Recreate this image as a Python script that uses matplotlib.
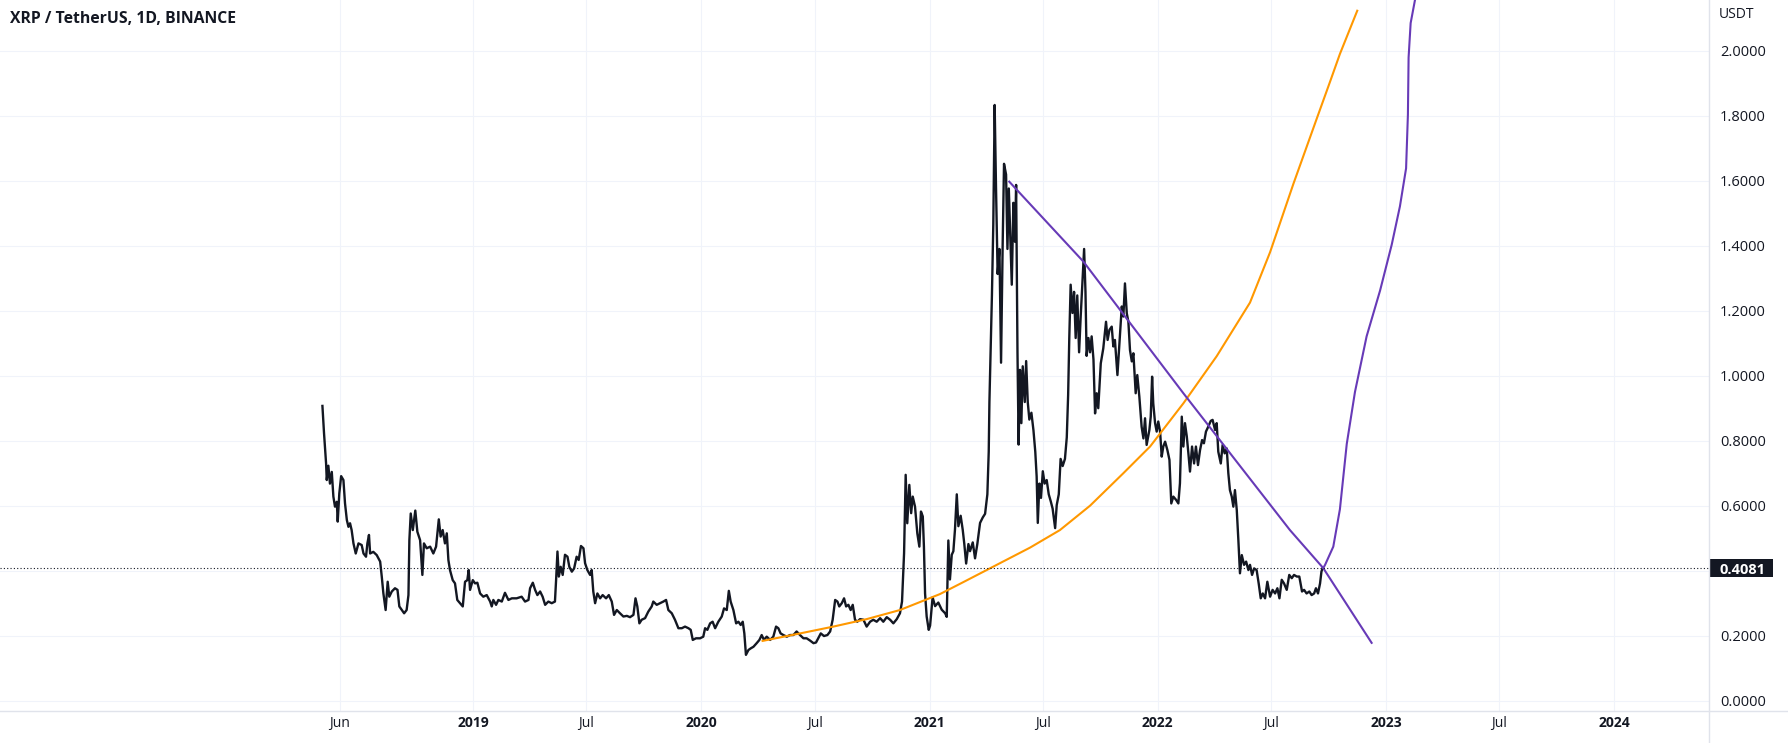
import matplotlib
matplotlib.use("Agg")
import matplotlib.pyplot as plt
from matplotlib.patches import Rectangle
from matplotlib.lines import Line2D
from matplotlib.transforms import blended_transform_factory

plt.rcParams['font.family'] = ['Open Sans', 'DejaVu Sans']

# XRP/USDT daily close (time in decimal years)
price_t = [
    2018.339, 2018.346, 2018.355, 2018.358, 2018.365, 2018.372, 2018.380, 2018.387, 2018.394, 2018.402,
    2018.406, 2018.413, 2018.421, 2018.431, 2018.438, 2018.446, 2018.453, 2018.460, 2018.467, 2018.475,
    2018.485, 2018.497, 2018.511, 2018.519, 2018.530, 2018.536, 2018.543, 2018.548, 2018.562, 2018.577,
    2018.592, 2018.599, 2018.606, 2018.616, 2018.625, 2018.632, 2018.643, 2018.657, 2018.668, 2018.676,
    2018.687, 2018.697, 2018.708, 2018.716, 2018.720, 2018.726, 2018.735, 2018.746, 2018.755, 2018.767,
    2018.777, 2018.784, 2018.796, 2018.811, 2018.825, 2018.837, 2018.849, 2018.857, 2018.866, 2018.876,
    2018.884, 2018.891, 2018.898, 2018.910, 2018.920, 2018.930, 2018.942, 2018.954, 2018.964, 2018.974,
    2018.980, 2018.986, 2018.998, 2019.008, 2019.018,
    2019.030, 2019.044, 2019.059, 2019.074, 2019.081, 2019.088, 2019.100, 2019.110, 2019.125, 2019.139,
    2019.154, 2019.169, 2019.190, 2019.212, 2019.227, 2019.242, 2019.249, 2019.261, 2019.271, 2019.281,
    2019.293, 2019.304, 2019.315, 2019.329, 2019.344, 2019.358, 2019.363, 2019.369, 2019.375, 2019.383,
    2019.392, 2019.402, 2019.413, 2019.421, 2019.432, 2019.442, 2019.453, 2019.462, 2019.472, 2019.483,
    2019.490, 2019.500, 2019.512, 2019.519, 2019.526, 2019.534, 2019.544, 2019.556, 2019.567, 2019.582,
    2019.594, 2019.607, 2019.617, 2019.629, 2019.643, 2019.658, 2019.673, 2019.687, 2019.702, 2019.711,
    2019.719, 2019.728, 2019.738, 2019.753, 2019.767, 2019.782, 2019.789, 2019.804, 2019.819, 2019.833,
    2019.845, 2019.855, 2019.870, 2019.884, 2019.899, 2019.914, 2019.928, 2019.943, 2019.953, 2019.962,
    2019.976, 2019.994, 2020.008, 2020.016, 2020.026, 2020.038,
    2020.049, 2020.060, 2020.074, 2020.089, 2020.099, 2020.111, 2020.120, 2020.128, 2020.140, 2020.152,
    2020.162, 2020.172, 2020.181, 2020.188, 2020.195, 2020.206, 2020.216, 2020.228, 2020.242, 2020.254,
    2020.264, 2020.274, 2020.286, 2020.301, 2020.315, 2020.327, 2020.337, 2020.347, 2020.359, 2020.374,
    2020.388, 2020.403, 2020.417, 2020.432, 2020.447, 2020.461, 2020.476, 2020.491, 2020.502, 2020.512,
    2020.523, 2020.537, 2020.552, 2020.564, 2020.575, 2020.586, 2020.596, 2020.604, 2020.615, 2020.625,
    2020.634, 2020.644, 2020.654, 2020.663, 2020.673, 2020.683, 2020.695, 2020.710, 2020.724, 2020.739,
    2020.753, 2020.768, 2020.783, 2020.797, 2020.812, 2020.827, 2020.841, 2020.856, 2020.870, 2020.879,
    2020.888, 2020.895, 2020.902, 2020.911, 2020.919, 2020.926, 2020.936, 2020.946, 2020.955, 2020.962,
    2020.970, 2020.975, 2020.980, 2020.987, 2020.996,
    2021.002, 2021.013, 2021.024, 2021.038, 2021.053, 2021.068, 2021.075, 2021.082, 2021.089, 2021.097,
    2021.104, 2021.111, 2021.119, 2021.126, 2021.136, 2021.145, 2021.152, 2021.160, 2021.170, 2021.177,
    2021.189, 2021.199, 2021.209, 2021.221, 2021.233, 2021.243, 2021.253, 2021.259, 2021.262, 2021.268,
    2021.273, 2021.279, 2021.285, 2021.291, 2021.298, 2021.306, 2021.313, 2021.320, 2021.326, 2021.335,
    2021.341, 2021.347, 2021.352, 2021.360, 2021.367, 2021.374, 2021.379, 2021.385, 2021.390, 2021.396,
    2021.402, 2021.408, 2021.417, 2021.423, 2021.430, 2021.437, 2021.446, 2021.455, 2021.463, 2021.469,
    2021.474, 2021.481, 2021.488, 2021.496, 2021.504, 2021.513, 2021.522, 2021.531, 2021.539, 2021.550,
    2021.557, 2021.566, 2021.574, 2021.583, 2021.593, 2021.601, 2021.607, 2021.612, 2021.618, 2021.626,
    2021.633, 2021.640, 2021.647, 2021.655, 2021.662, 2021.669, 2021.677, 2021.683, 2021.688, 2021.696,
    2021.703, 2021.710, 2021.718,
    2021.725, 2021.732, 2021.739, 2021.750, 2021.761, 2021.773, 2021.780, 2021.788, 2021.798, 2021.805,
    2021.812, 2021.823, 2021.831, 2021.842, 2021.849, 2021.856, 2021.864, 2021.871, 2021.878, 2021.886,
    2021.893, 2021.903, 2021.910, 2021.919, 2021.929, 2021.937, 2021.944, 2021.951, 2021.963, 2021.969,
    2021.975, 2021.980, 2021.988, 2021.995, 2022.002, 2022.010, 2022.017, 2022.024, 2022.032, 2022.042,
    2022.051, 2022.059, 2022.068, 2022.080, 2022.090, 2022.097, 2022.105, 2022.112, 2022.119, 2022.127,
    2022.134, 2022.141, 2022.150, 2022.159, 2022.167, 2022.176, 2022.185, 2022.194, 2022.202, 2022.211,
    2022.221, 2022.232, 2022.240, 2022.251, 2022.258, 2022.265, 2022.276, 2022.284, 2022.293, 2022.302,
    2022.309, 2022.316, 2022.324, 2022.331, 2022.338, 2022.346, 2022.353, 2022.360, 2022.368, 2022.378,
    2022.387, 2022.397, 2022.404, 2022.413, 2022.422, 2022.433, 2022.442, 2022.451, 2022.460, 2022.470,
    2022.480, 2022.492, 2022.503, 2022.514, 2022.524, 2022.533, 2022.543, 2022.553, 2022.565, 2022.576,
    2022.587, 2022.597, 2022.609, 2022.620, 2022.632, 2022.641, 2022.652, 2022.664, 2022.674, 2022.685,
    2022.693, 2022.702, 2022.711, 2022.717, 2022.722,
]
price_v = [
    0.907, 0.823, 0.730, 0.679, 0.723, 0.668, 0.704, 0.628, 0.597, 0.612,
    0.551, 0.638, 0.691, 0.679, 0.607, 0.556, 0.535, 0.546, 0.525, 0.484,
    0.453, 0.484, 0.479, 0.453, 0.443, 0.484, 0.510, 0.453, 0.458, 0.448,
    0.428, 0.382, 0.331, 0.279, 0.366, 0.320, 0.336, 0.346, 0.341, 0.290,
    0.279, 0.269, 0.279, 0.325, 0.494, 0.576, 0.525, 0.585, 0.520, 0.494,
    0.387, 0.484, 0.469, 0.474, 0.453, 0.474, 0.558, 0.505, 0.525, 0.484,
    0.515, 0.433, 0.402, 0.371, 0.361, 0.310, 0.300, 0.290, 0.366, 0.371,
    0.402, 0.341, 0.371, 0.361, 0.363,
    0.330, 0.320, 0.325, 0.305, 0.290, 0.310, 0.295, 0.310, 0.305, 0.332,
    0.310, 0.315, 0.315, 0.320, 0.305, 0.310, 0.346, 0.363, 0.341, 0.325,
    0.336, 0.320, 0.295, 0.305, 0.300, 0.305, 0.371, 0.459, 0.382, 0.412,
    0.387, 0.449, 0.443, 0.412, 0.397, 0.407, 0.443, 0.433, 0.476, 0.469,
    0.423, 0.402, 0.387, 0.402, 0.336, 0.300, 0.330, 0.315, 0.325, 0.315,
    0.325, 0.305, 0.264, 0.279, 0.269, 0.259, 0.261, 0.257, 0.264, 0.315,
    0.290, 0.238, 0.249, 0.254, 0.274, 0.290, 0.305, 0.295, 0.300, 0.305,
    0.310, 0.279, 0.269, 0.249, 0.223, 0.223, 0.228, 0.223, 0.218, 0.187,
    0.192, 0.192, 0.197, 0.223, 0.218, 0.238,
    0.243, 0.223, 0.243, 0.259, 0.284, 0.279, 0.338, 0.305, 0.279, 0.238,
    0.243, 0.233, 0.243, 0.207, 0.141, 0.156, 0.161, 0.166, 0.177, 0.187,
    0.202, 0.187, 0.197, 0.187, 0.197, 0.228, 0.223, 0.207, 0.202, 0.197,
    0.202, 0.202, 0.213, 0.202, 0.192, 0.192, 0.185, 0.177, 0.179, 0.192,
    0.207, 0.199, 0.202, 0.213, 0.249, 0.310, 0.305, 0.290, 0.300, 0.315,
    0.290, 0.295, 0.279, 0.295, 0.249, 0.243, 0.251, 0.249, 0.228, 0.243,
    0.249, 0.243, 0.254, 0.243, 0.257, 0.249, 0.238, 0.251, 0.269, 0.305,
    0.454, 0.695, 0.546, 0.664, 0.577, 0.628, 0.597, 0.515, 0.474, 0.582,
    0.567, 0.474, 0.330, 0.259, 0.218,
    0.231, 0.318, 0.291, 0.302, 0.280, 0.269, 0.258, 0.493, 0.373, 0.449,
    0.460, 0.526, 0.635, 0.537, 0.569, 0.526, 0.482, 0.422, 0.482, 0.460,
    0.487, 0.438, 0.482, 0.547, 0.564, 0.575, 0.635, 0.766, 0.919, 1.094,
    1.247, 1.466, 1.833, 1.576, 1.313, 1.390, 1.040, 1.401, 1.652, 1.619,
    1.390, 1.576, 1.466, 1.280, 1.532, 1.412, 1.587, 1.072, 0.788, 1.018,
    0.854, 1.029, 0.919, 1.045, 0.919, 0.865, 0.886, 0.832, 0.766, 0.690,
    0.547, 0.668, 0.624, 0.706, 0.668, 0.679, 0.635, 0.613, 0.591, 0.531,
    0.602, 0.635, 0.744, 0.722, 0.744, 0.810, 0.941, 1.116, 1.280, 1.193,
    1.258, 1.116, 1.247, 1.072, 1.182, 1.280, 1.390, 1.258, 1.061, 1.116,
    1.072, 1.121, 1.050,
    0.884, 0.946, 0.900, 1.038, 1.084, 1.166, 1.110, 1.141, 1.151, 1.090,
    1.110, 1.002, 1.090, 1.213, 1.182, 1.284, 1.192, 1.166, 1.079, 1.044,
    1.069, 0.946, 1.002, 0.936, 0.843, 0.807, 0.869, 0.787, 0.833, 0.874,
    0.997, 0.915, 0.854, 0.828, 0.859, 0.828, 0.751, 0.782, 0.797, 0.771,
    0.741, 0.607, 0.628, 0.618, 0.607, 0.669, 0.874, 0.782, 0.854, 0.813,
    0.761, 0.705, 0.782, 0.730, 0.782, 0.725, 0.771, 0.802, 0.792, 0.828,
    0.843, 0.861, 0.864, 0.833, 0.854, 0.766, 0.730, 0.787, 0.761, 0.776,
    0.700, 0.648, 0.628, 0.597, 0.648, 0.587, 0.494, 0.392, 0.448, 0.418,
    0.428, 0.402, 0.418, 0.387, 0.407, 0.402, 0.361, 0.315, 0.330, 0.315,
    0.366, 0.320, 0.341, 0.330, 0.346, 0.315, 0.372, 0.361, 0.341, 0.387,
    0.377, 0.387, 0.382, 0.382, 0.336, 0.341, 0.330, 0.336, 0.325, 0.330,
    0.346, 0.330, 0.361, 0.397, 0.4081,
]

# orange curve (drawn)
curve_t = [2020.268, 2020.432, 2020.578, 2020.724, 2020.870, 2021.045, 2021.148, 2021.294,
           2021.440, 2021.571, 2021.703, 2021.849, 2021.966, 2022.112, 2022.258, 2022.404,
           2022.492, 2022.594, 2022.696, 2022.755, 2022.798, 2022.874]
curve_v = [0.184, 0.207, 0.228, 0.251, 0.279, 0.328, 0.365, 0.418,
           0.471, 0.525, 0.600, 0.700, 0.782, 0.915, 1.060, 1.225,
           1.380, 1.590, 1.790, 1.905, 1.990, 2.123]

# purple down trend line
trend_t = [2021.349, 2021.674, 2022.112, 2022.579, 2022.725, 2022.937]
trend_v = [1.597, 1.351, 0.946, 0.525, 0.408, 0.178]

# purple projection going up
proj_t = [2022.725, 2022.733, 2022.769, 2022.798, 2022.828, 2022.864, 2022.915, 2022.974,
          2023.025, 2023.061, 2023.088, 2023.096, 2023.099, 2023.108, 2023.127, 2023.140]
proj_v = [0.408, 0.418, 0.474, 0.589, 0.790, 0.950, 1.121, 1.262,
          1.403, 1.521, 1.638, 1.803, 1.979, 2.085, 2.156, 2.220]

# x axis ticks
xtick_pos = [2018.414, 2019.0, 2019.496, 2020.0, 2020.497, 2021.0, 2021.496,
             2022.0, 2022.496, 2023.0, 2023.496, 2024.0]
xtick_lab = ['Jun', '2019', 'Jul', '2020', 'Jul', '2021', 'Jul', '2022', 'Jul', '2023', 'Jul', '2024']
ytick_pos = [0.0, 0.2, 0.4, 0.6, 0.8, 1.0, 1.2, 1.4, 1.6, 1.8, 2.0]

text_col = '#131722'
grid_col = '#f0f3fa'
line_col = '#e0e3eb'

W, H = 1788, 743
fig = plt.figure(figsize=(W / 100, H / 100), dpi=100)
ax = fig.add_axes([0, 32 / H, 1709 / W, 711 / H])

ax.plot(price_t, price_v, color=text_col, lw=1.7, solid_joinstyle='round')
ax.plot(curve_t, curve_v, color='#ff9800', lw=1.5, solid_joinstyle='round')
ax.plot(trend_t, trend_v, color='#673ab7', lw=1.5, solid_joinstyle='round')
ax.plot(proj_t, proj_v, color='#673ab7', lw=1.5, solid_joinstyle='round')

last = price_v[-1]
ax.axhline(last, color=text_col, lw=0.8, ls=(0, (1, 2)))

ax.set_xlim(2016.926, 2024.4155)
ax.set_ylim(-0.0317, 2.156)

ax.set_xticks(xtick_pos)
ax.set_xticklabels(xtick_lab)
for lab in ax.get_xticklabels():
    if lab.get_text().isdigit():
        lab.set_fontweight('bold')
ax.set_yticks(ytick_pos)
ax.set_yticklabels(['' if abs(v - 0.4) < 1e-6 else '%.4f' % v for v in ytick_pos])
ax.yaxis.tick_right()
ax.tick_params(axis='y', length=0, pad=7.9, labelsize=10.5, labelcolor=text_col)
ax.tick_params(axis='x', length=0, pad=3.5, labelsize=10, labelcolor=text_col)
ax.grid(True, color=grid_col, lw=0.8)
ax.set_axisbelow(True)
for s in ax.spines.values():
    s.set_visible(False)

# axis border lines
fig.add_artist(Line2D([0, 1], [32 / H, 32 / H], color=line_col, lw=1))
fig.add_artist(Line2D([1709 / W, 1709 / W], [0, 1], color=line_col, lw=1))

# last price tag
trans = blended_transform_factory(ax.transAxes, ax.transData)
ax.add_patch(Rectangle((1.0, last - 9 / 325), 64 / 1709, 18 / 325, transform=trans,
                       clip_on=False, fc=text_col, ec='none'))
ax.text(1.0 + 11 / 1709, last, '%.4f' % last, transform=trans, color='white',
        fontsize=10.5, fontweight='bold', va='center_baseline', ha='left', clip_on=False)

fig.text(10 / W, 1 - 19 / H, 'XRP / TetherUS, 1D, BINANCE', fontsize=11.3,
         fontweight='bold', color=text_col, va='center', ha='left')
fig.text(1719 / W, 1 - 15 / H, 'USDT', fontsize=10, color=text_col, va='center', ha='left')

fig.savefig('out.png', dpi=100)
